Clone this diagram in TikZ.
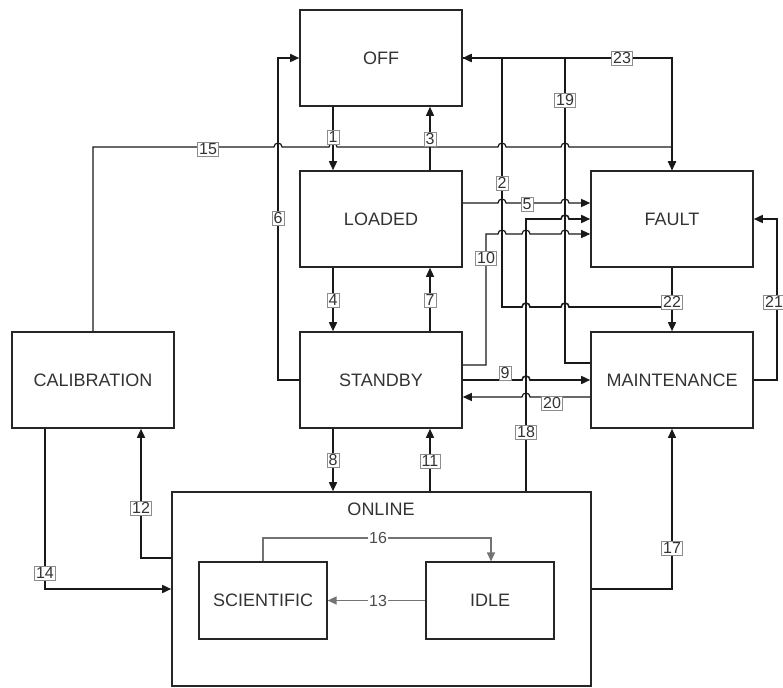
\documentclass[tikz,border=0pt]{standalone}
\usepackage{fontspec}
\setmainfont{Liberation Sans}
\usetikzlibrary{arrows.meta}

\tikzset{
  state/.style={draw=black!85, line width=1.6pt, fill=white, text=black!80,
    minimum width=162pt, minimum height=96pt, inner sep=0pt,
    font=\fontsize{18}{20}\selectfont},
  substate/.style={state, line width=1.2pt, minimum width=128pt, minimum height=77pt},
  conn/.style={draw=black!90, line width=1.6pt, -{Triangle[length=9pt,width=8pt]}},
  thinconn/.style={conn, line width=1.2pt},
  inconn/.style={draw=black!55, line width=1.3pt, -{Triangle[length=9pt,width=8pt]}},
  num/.style={draw=black!45, line width=0.5pt, fill=white, text=black!80,
    inner sep=1.5pt, font=\fontsize{16}{17}\selectfont},
  innum/.style={fill=white, text=black!70, inner sep=1pt,
    font=\fontsize{16}{17}\selectfont}
}

\begin{document}
\begin{tikzpicture}[x=1pt, y=-1pt]
  \useasboundingbox (0,0) rectangle (783,687);

  % States
  \node[state] (off) at (381,58) {OFF};
  \node[state] (loaded) at (381,219) {LOADED};
  \node[state] (standby) at (381,380) {STANDBY};
  \node[state] (fault) at (672,219) {FAULT};
  \node[state] (maint) at (672,380) {MAINTENANCE};
  \node[state] (calib) at (93,380) {CALIBRATION};
  \node[state, minimum width=419pt, minimum height=194pt] (online) at (381.5,589) {};
  \node[text=black!80, font=\fontsize{18}{20}\selectfont] (onlinetxt) at (381,509) {ONLINE};
  \node[substate] (sci) at (263,600.5) {SCIENTIFIC};
  \node[substate] (idle) at (490,600.5) {IDLE};

  % Vertical stack
  \draw[conn] (333,0 |- off.south) -- (333,0 |- loaded.north);
  \draw[thinconn] (430,0 |- loaded.north) -- (430,0 |- off.south);
  \draw[conn] (333,0 |- loaded.south) -- (333,0 |- standby.north);
  \draw[thinconn] (430,0 |- standby.north) -- (430,0 |- loaded.south);
  \draw[conn] (333,0 |- standby.south) -- (333,0 |- online.north);
  \draw[thinconn] (430,0 |- online.north) -- (430,0 |- standby.south);
  \draw[conn] (standby.west) -- (278,380) -- (278,58) -- (off.west);

  % Lines into OFF and FAULT from the top
  \draw[conn] (off.east) -- (672,58) -- (fault.north);
  \draw[conn] (maint.west |- 0,363) -- (565,363) -- (565,58) -- (off.east);
  \draw[conn] (fault.south) -- (672,307) -- (569,307) arc (0:-180:4)
    -- (530,307) arc (0:-180:4) -- (502,307) -- (502,58) -- (off.east);
  \draw[thinconn] (calib.north) -- (93,147) -- (274,147) arc (180:360:4)
    -- (329,147) arc (180:360:4) -- (498,147) arc (180:360:4)
    -- (561,147) arc (180:360:4) -- (672,147) -- (fault.north);

  % Lines into FAULT from the left
  \draw[thinconn] (loaded.east |- 0,203) -- (498,203) arc (180:360:4)
    -- (561,203) arc (180:360:4) -- (fault.west |- 0,203);
  \draw[conn] (526,0 |- online.north) -- (526,219) -- (561,219) arc (180:360:4)
    -- (fault.west);
  \draw[thinconn] (standby.east |- 0,365) -- (486,365) -- (486,234)
    -- (498,234) arc (180:360:4) -- (522,234) arc (180:360:4)
    -- (561,234) arc (180:360:4) -- (fault.west |- 0,234);

  % STANDBY <-> MAINTENANCE
  \draw[conn] (standby.east |- 0,380) -- (522,380) arc (180:360:4) -- (maint.west);
  \draw[thinconn] (maint.west |- 0,397) -- (530,397) arc (0:-180:4)
    -- (standby.east |- 0,397);

  % FAULT <-> MAINTENANCE
  \draw[conn] (fault.south) -- (maint.north);
  \draw[conn] (maint.east) -- (777,380) -- (777,219) -- (fault.east);

  % ONLINE and CALIBRATION
  \draw[thinconn] (online.east) -- (672,589) -- (maint.south);
  \draw[conn] (online.west |- 0,558) -- (141,558) -- (141,0 |- calib.south);
  \draw[conn] (45,0 |- calib.south) -- (45,589) -- (online.west);

  % Inside ONLINE
  \draw[inconn] (sci.north) -- (263,538) -- (491,538) -- (491,0 |- idle.north);
  \draw[inconn] (idle.west) -- (sci.east);

  % Transition numbers
  \foreach \n/\x/\y in {1/333/137, 2/502/183, 3/430/139, 4/333/300, 5/527/204,
      6/278/218, 7/430/300, 8/333/460, 9/505/373, 10/486/258, 11/430/461,
      12/141/508, 14/45/573, 15/208/149, 17/672/548, 18/526/432, 19/565/100,
      20/552/403, 21/774/302, 22/672/302, 23/622/58}
    {
      \node[num] (t\n) at (\x,\y) {\n};
    }
  \node[innum] (t16) at (378,538) {16};
  \node[innum] (t13) at (378,601) {13};

\end{tikzpicture}
\end{document}
